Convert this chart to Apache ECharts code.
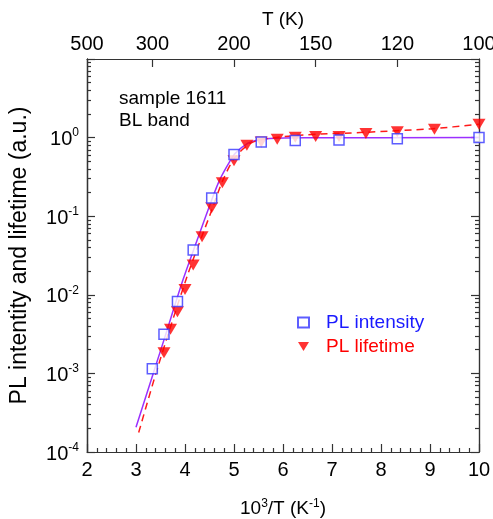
<!DOCTYPE html>
<html><head><meta charset="utf-8">
<script src="https://cdn.jsdelivr.net/npm/echarts@6/dist/echarts.min.js"></script>
<style>html,body{margin:0;padding:0;background:#fff}#c{width:493px;height:519px}</style>
</head><body><div id="c"></div>
<script>
// ---- data (x = 10^3/T in K^-1) ----
const intensityX = [3.333, 3.571, 3.846, 4.167, 4.545, 5.0, 5.556, 6.25, 7.143, 8.333, 10.0];
const intensityY = [1.15e-3, 3.14e-3, 8.2e-3, 0.0372, 0.170, 0.61, 0.88, 0.92, 0.93, 0.97, 1.0];

const lifetimeX = [3.571, 3.704, 3.846, 4.0, 4.167, 4.348, 4.545, 4.762, 5.0, 5.263, 5.556, 5.882, 6.25, 6.667, 7.143, 7.692, 8.333, 9.091, 10.0];
const lifetimeY = [1.83e-3, 3.64e-3, 6.1e-3, 0.0117, 0.0239, 0.0548, 0.128, 0.267, 0.508, 0.80, 0.88, 0.95, 1.01, 1.03, 1.03, 1.13, 1.19, 1.28, 1.48];

const intensityFitX = [3.0, 3.571, 3.959, 4.25, 4.545, 4.708, 4.912, 5.035, 5.286, 5.49, 5.729, 6.443, 10.0];
const intensityFitY = [2.07e-4, 2.67e-3, 0.0155, 0.050, 0.161, 0.290, 0.495, 0.639, 0.849, 0.935, 0.977, 0.996, 1.0];

const lifetimeFitX = [3.055, 3.449, 4.041, 4.545, 4.776, 5.014, 5.286, 5.524, 6.34, 7.70, 9.06, 10.0];
const lifetimeFitY = [1.77e-4, 1.22e-3, 0.0170, 0.119, 0.290, 0.552, 0.807, 0.935, 1.07, 1.17, 1.30, 1.48];

// top axis: temperature tick labels (K) and their 10^3/T positions
const topTempLabels = [500, 300, 200, 150, 120, 100];
const topTempPos = [2.0, 3.3333, 5.0, 6.6667, 8.3333, 10.0];

// y axis decade exponents
const yExponents = [-4, -3, -2, -1, 0, 1];

const seriesNames = ['PL intensity', 'PL lifetime'];
const annotation = ['sample 1611', 'BL band'];

// ---- build ----
const FONT = '"Liberation Sans", Arial, sans-serif';
const zip = (xs, ys) => xs.map((x, i) => [x, ys[i]]);
const yMajorVals = yExponents.map(e => Math.pow(10, e));
const yMajorLog = yExponents.slice();
const yMinorLog = [];
for (let k = 0; k < yExponents.length - 1; k++) {
  for (let m = 2; m <= 9; m++) yMinorLog.push(yExponents[k] + Math.log10(m));
}
const AX = {color: '#333', width: 1.2};

const tickAxis = (pos, len, vals) => ({
  type: 'value', min: yExponents[0], max: yExponents[yExponents.length - 1], position: pos,
  splitLine: {show: false}, axisLabel: {show: false},
  axisLine: {show: true, onZero: false, lineStyle: AX},
  axisTick: {show: true, inside: true, length: len, lineStyle: AX, customValues: vals}
});

const chart = echarts.init(document.getElementById('c'));
chart.setOption({
  animation: false,
  textStyle: {fontFamily: FONT},
  grid: {left: 87, right: 14, top: 59, bottom: 67, containLabel: false, outerBoundsMode: 'none'},
  title: {
    text: annotation.join('\n'), left: 114, top: 83,
    textStyle: {fontFamily: FONT, fontSize: 19, fontWeight: 'normal', color: '#000', lineHeight: 22}
  },
  legend: {
    orient: 'vertical', left: 292, top: 308, itemWidth: 11, itemHeight: 10, itemGap: 5,
    textStyle: {fontFamily: FONT, fontSize: 19, padding: [0, 0, 0, 12]},
    data: [
      {name: seriesNames[0], textStyle: {color: '#1a1aff'}},
      {name: seriesNames[1], textStyle: {color: '#ff0000'}}
    ]
  },
  xAxis: [
    {
      type: 'value', position: 'bottom', min: 2, max: 10, interval: 1,
      axisLine: {onZero: false, lineStyle: AX},
      axisTick: {inside: true, length: 8, lineStyle: AX},
      minorTick: {show: true, splitNumber: 5, length: 4, lineStyle: AX},
      splitLine: {show: false},
      axisLabel: {fontSize: 20, color: '#000', margin: 8, fontFamily: FONT},
      name: '10{s|3}/T (K{s|-1})', nameLocation: 'middle', nameGap: 46,
      nameTextStyle: {fontSize: 19, color: '#000', fontFamily: FONT,
        rich: {s: {fontSize: 12, padding: [0, 0, 9, 0], fontFamily: FONT, color: '#000'}}}
    },
    {
      type: 'value', position: 'top', min: 2, max: 10,
      axisLine: {onZero: false, lineStyle: AX},
      axisTick: {inside: true, length: 8, lineStyle: AX, customValues: topTempPos.slice(1, -1)},
      splitLine: {show: false},
      axisLabel: {fontSize: 20, color: '#000', margin: 5, fontFamily: FONT,
        customValues: topTempPos,
        formatter: v => {
          let best = 0;
          topTempPos.forEach((p, i) => { if (Math.abs(p - v) < Math.abs(topTempPos[best] - v)) best = i; });
          return String(topTempLabels[best]);
        }},
      name: 'T (K)', nameLocation: 'middle', nameGap: 30,
      nameTextStyle: {fontSize: 19, color: '#000', fontFamily: FONT}
    }
  ],
  yAxis: [
    {
      type: 'log', logBase: 10, min: yMajorVals[0], max: yMajorVals[yMajorVals.length - 1],
      position: 'left',
      splitLine: {show: false},
      axisLine: {show: true, onZero: false, lineStyle: AX},
      axisTick: {show: false},
      axisLabel: {
        customValues: yMajorVals.slice(0, -1), margin: 8, fontFamily: FONT,
        formatter: v => '{b|10}{s|' + Math.round(Math.log10(v)) + '}',
        rich: {
          b: {fontSize: 20, color: '#000', fontFamily: FONT, padding: [4, 0, 0, 0]},
          s: {fontSize: 12, color: '#000', fontFamily: FONT, padding: [0, 0, 9, 0]}
        }
      },
      name: 'PL intentity and lifetime (a.u.)', nameLocation: 'middle', nameGap: 56,
      nameTextStyle: {fontSize: 23, color: '#000', fontFamily: FONT}
    },
    tickAxis('left', 8, yMajorLog),
    tickAxis('left', 4, yMinorLog),
    tickAxis('right', 8, yMajorLog),
    tickAxis('right', 4, yMinorLog)
  ],
  series: [
    {
      name: 'fitI', type: 'line', data: zip(intensityFitX, intensityFitY),
      showSymbol: false, smooth: 0.3, silent: true,
      lineStyle: {color: '#9b30ff', width: 1.5}
    },
    {
      name: 'fitL', type: 'line', data: zip(lifetimeFitX, lifetimeFitY),
      showSymbol: false, smooth: 0.3, silent: true,
      lineStyle: {color: '#ff1a1a', width: 1.5, type: [7, 5]}
    },
    {
      name: seriesNames[0], type: 'scatter', data: zip(intensityX, intensityY),
      symbol: 'rect', symbolSize: 10, z: 5,
      itemStyle: {color: '#ffffff', borderColor: '#3535ff', borderWidth: 1.5}
    },
    {
      name: seriesNames[1], type: 'scatter', data: zip(lifetimeX, lifetimeY),
      symbol: 'path://M0,0L12,0L6,10Z', symbolSize: [13, 11], z: 4,
      itemStyle: {color: '#ff0000'}
    }
  ]
});
</script></body></html>
